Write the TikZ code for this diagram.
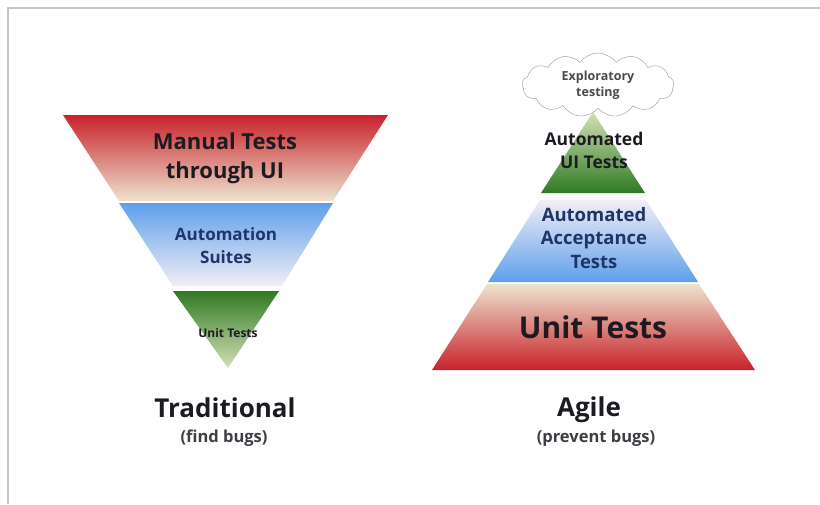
\documentclass[tikz,border=0pt]{standalone}
\usepackage{fontspec}
\setmainfont{Open Sans}
\usetikzlibrary{shapes.symbols}

\definecolor{bandred}{HTML}{C8222A}
\definecolor{bandpink}{HTML}{E49A92}
\definecolor{bandbeige}{HTML}{EDE3CF}
\definecolor{bandblue}{HTML}{5E9FEA}
\definecolor{bandpale}{HTML}{F2EEF6}
\definecolor{banddkgreen}{HTML}{2F7A23}
\definecolor{bandltgreen}{HTML}{D3E0B5}
\definecolor{inktext}{HTML}{1E1A22}
\definecolor{inkblue}{HTML}{1F3468}
\definecolor{framegray}{HTML}{C4C4C4}

\begin{document}
\begin{tikzpicture}[x=1pt,y=-1pt,
    label/.style={font=\bfseries, text=inktext, align=center, inner sep=0pt},
    caption/.style={font=\bfseries, text=inktext, align=center, inner sep=0pt}]
        \useasboundingbox (0,0) rectangle (820,504);
        \fill[white] (0,0) rectangle (820,504);
        \draw[framegray, line width=2pt] (8,504) -- (8,8) -- (820,8);

        % Traditional (inverted)
        \shade[top color=bandred, middle color=bandpink, bottom color=bandbeige] (63,115) -- (388,115) -- (333,201) -- (119,201) -- cycle;
        \shade[top color=bandblue, bottom color=bandpale] (119,203) -- (333,203) -- (282,286) -- (173,286) -- cycle;
        \shade[top color=banddkgreen, bottom color=bandltgreen] (173,291) -- (279,291) -- (228,368) -- cycle;
        \node[label, font=\fontsize{22}{29}\selectfont\bfseries] (manual) at (225,158) {Manual Tests\\through UI};
        \node[label, text=inkblue, font=\fontsize{17}{23}\selectfont\bfseries] (suites) at (226,246) {Automation\\Suites};
        \node[label, font=\fontsize{12}{14}\selectfont\bfseries] (unitsmall) at (228,333) {Unit Tests};

        % Agile (pyramid)
        \shade[top color=bandbeige, middle color=bandpink, bottom color=bandred] (487,284) -- (699,284) -- (755,370) -- (432,370) -- cycle;
        \shade[top color=bandpale, bottom color=bandblue] (540,200) -- (646,200) -- (698,282) -- (488,282) -- cycle;
        \shade[top color=bandltgreen, bottom color=banddkgreen] (593,112) -- (645,193) -- (541,193) -- cycle;
        \node[cloud, cloud puffs=13, cloud puff arc=110, aspect=2.4, draw=gray!80, fill=white,
              minimum width=152pt, minimum height=64pt, inner sep=0pt,
              font=\fontsize{12.5}{16}\selectfont\bfseries, text=inktext!80, align=center] (explore) at (598,85) {Exploratory\\testing};
        \node[label, font=\fontsize{17.5}{23}\selectfont\bfseries] (uitests) at (594,150) {Automated\\UI Tests};
        \node[label, text=inkblue, font=\fontsize{18.5}{23.5}\selectfont\bfseries] (accept) at (594,238) {Automated\\Acceptance\\Tests};
        \node[label, font=\fontsize{30}{34}\selectfont\bfseries] (unitbig) at (593,327) {Unit Tests};

        % captions
        \node[caption, font=\fontsize{26}{30}\selectfont\bfseries] (trad) at (225,408) {Traditional};
        \node[caption, font=\fontsize{16.5}{20}\selectfont\bfseries, text=inktext!85] (find) at (224,438) {(find bugs)};
        \node[caption, font=\fontsize{26}{30}\selectfont\bfseries] (agile) at (589,410) {Agile};
        \node[caption, font=\fontsize{16.5}{20}\selectfont\bfseries, text=inktext!85] (prevent) at (596,438) {(prevent bugs)};
    \end{tikzpicture}
\end{document}
